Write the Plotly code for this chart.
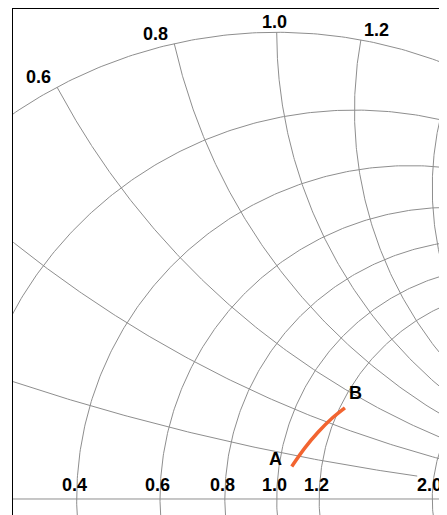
import numpy as np
import plotly.graph_objects as go

# ---- chart values (normalized impedance, Smith chart) ----
resistance_grid = [0.0, 0.2, 0.4, 0.6, 0.8, 1.0, 1.2, 2.0]
reactance_grid = [0.2, 0.4, 0.6, 0.8, 1.0, 1.2, 1.5]
resistance_labels = [0.4, 0.6, 0.8, 1.0, 1.2, 2.0]
reactance_labels = [0.6, 0.8, 1.0, 1.2]

# trajectory from A to B (normalized impedance r + jx)
path_r = [1.056, 1.100, 1.143, 1.184, 1.226]
path_x = [0.148, 0.245, 0.339, 0.427, 0.509]
path_names = ["A", "B"]

# ---- styling / view constants ----
GRID_COLOR = "#8e8e8e"
PATH_COLOR = "#f26430"
LABEL_FONT = dict(family="Liberation Sans", size=18, color="black", weight="bold")
X_RANGE = [-0.5650, 0.3649]
Y_RANGE = [-0.0343, 1.0499]
REACTANCE_STOP = {0.2: 1.85}   # where short reactance arcs end (resistance value)


def gamma(z):
    z = np.asarray(z, dtype=complex)
    return (z - 1) / (z + 1)


gx, gy = [], []
# constant-resistance circles
theta = np.linspace(0, 2 * np.pi, 721)
for r in resistance_grid:
    c = r / (1 + r)
    rad = 1 / (1 + r)
    gx += list(c + rad * np.cos(theta)) + [None]
    gy += list(rad * np.sin(theta)) + [None]
# constant-reactance arcs (both signs)
rr = np.concatenate([[0.0], np.logspace(-3, 3, 800)])
for x in reactance_grid:
    stop = REACTANCE_STOP.get(x, np.inf)
    rvals = rr[rr <= stop]
    for s in (1, -1):
        g = gamma(rvals + 1j * s * x)
        gx += list(g.real) + [None]
        gy += list(g.imag) + [None]
# real axis
gx += [-1, 1, None]
gy += [0, 0, None]

fig = go.Figure()
fig.add_trace(go.Scatter(x=gx, y=gy, mode="lines",
                         line=dict(color=GRID_COLOR, width=1),
                         hoverinfo="skip", showlegend=False))

gp = gamma(np.array(path_r) + 1j * np.array(path_x))
fig.add_trace(go.Scatter(x=gp.real, y=gp.imag, mode="lines",
                         line=dict(color=PATH_COLOR, width=3.5, shape="spline"),
                         showlegend=False,
                         customdata=np.stack([path_r, path_x], axis=1),
                         hovertemplate="z = %{customdata[0]} + j%{customdata[1]}<extra></extra>"))

annotations = []
for r in resistance_labels:
    g = gamma(r)
    annotations.append(dict(x=float(g.real), y=0, text=f"{r:.1f}", showarrow=False,
                            xanchor="center", yanchor="middle", xshift=-2.5, yshift=14,
                            font=LABEL_FONT))
for x in reactance_labels:
    g = gamma(1j * x)
    if x < 1:
        anc, xs = "right", -4
    elif x > 1:
        anc, xs = "left", 1
    else:
        anc, xs = "center", -2.5
    annotations.append(dict(x=float(g.real), y=float(g.imag), text=f"{x:.1f}", showarrow=False,
                            xanchor=anc, yanchor="middle", xshift=xs, yshift=10,
                            font=LABEL_FONT))
# point names at trajectory ends
annotations.append(dict(x=float(gp.real[0]), y=float(gp.imag[0]), text=path_names[0],
                        showarrow=False, xanchor="center", yanchor="middle",
                        xshift=-16.5, yshift=7, font=LABEL_FONT))
annotations.append(dict(x=float(gp.real[-1]), y=float(gp.imag[-1]), text=path_names[1],
                        showarrow=False, xanchor="center", yanchor="middle",
                        xshift=10.5, yshift=15, font=LABEL_FONT))

# the page body keeps its default 8px margin, so the figure is sized to fill the rest
fig.update_layout(
    width=439, height=507,
    margin=dict(l=5, r=0, t=1, b=0),
    paper_bgcolor="white", plot_bgcolor="white",
    showlegend=False,
    annotations=annotations,
    xaxis=dict(range=X_RANGE, showgrid=False, zeroline=False, showticklabels=False,
               ticks="", showline=True, linecolor="black", linewidth=1.2, side="top",
               fixedrange=True),
    yaxis=dict(range=Y_RANGE, showgrid=False, zeroline=False, showticklabels=False,
               ticks="", showline=True, linecolor="black", linewidth=1.2, side="left",
               fixedrange=True),
)

fig.write_html("out.html", config={"displayModeBar": False})
